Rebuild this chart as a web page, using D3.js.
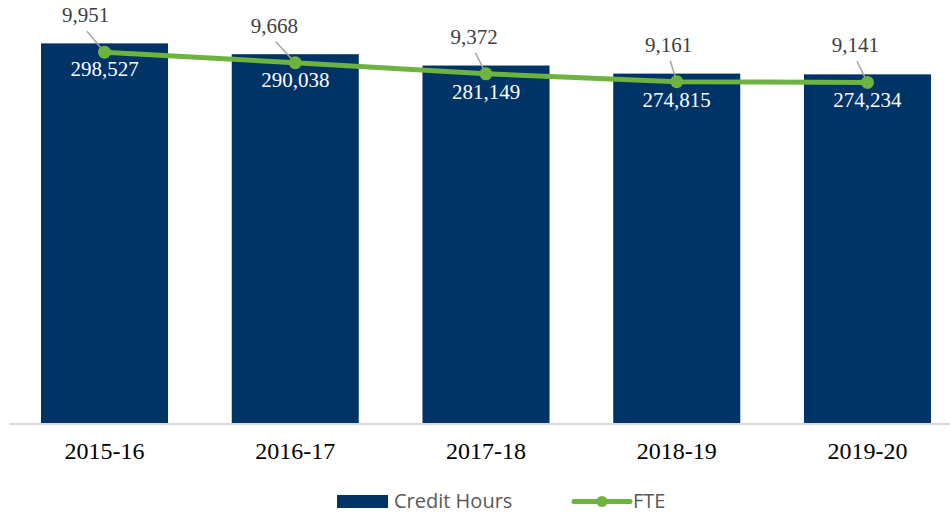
<!DOCTYPE html>
<html>
<head>
<meta charset="utf-8">
<script src="https://cdnjs.cloudflare.com/ajax/libs/d3/7.8.5/d3.min.js"></script>
<style>
  html, body { margin: 0; padding: 0; background: #fff; }
  svg { display: block; }
</style>
</head>
<body>
<div id="chart"></div>
<script>
// data
var years = ['2015-16', '2016-17', '2017-18', '2018-19', '2019-20'];
var creditHours = [298527, 290038, 281149, 274815, 274234];
var fte = [9951, 9668, 9372, 9161, 9141];

// hand-placed label nudges for the FTE labels (layout only)
var fteLabelDx = [-19, -21, -12, -8, -12];

var width = 951, height = 515;
var baseY = 424;

var svg = d3.select('#chart').append('svg')
    .attr('width', width)
    .attr('height', height);

var x = d3.scaleBand()
    .domain(years)
    .range([41, 931])
    .paddingInner(0.334)
    .paddingOuter(0);

var y = d3.scaleLinear().domain([0, 320000]).range([baseY, 16]);
var y2 = d3.scaleLinear().domain([0, 11000]).range([baseY, 13]);

var fmt = d3.format(',');

// bars
svg.append('g').selectAll('rect')
    .data(creditHours)
    .join('rect')
    .attr('x', function(d, i) { return x(years[i]); })
    .attr('y', function(d) { return y(d); })
    .attr('width', x.bandwidth())
    .attr('height', function(d) { return baseY - y(d); })
    .attr('fill', '#003366');

// x axis
var xAxis = svg.append('g')
    .attr('transform', 'translate(0,' + baseY + ')')
    .call(d3.axisBottom(x).tickSize(0).tickPadding(18));
xAxis.select('.domain').attr('stroke', '#d9d9d9').attr('stroke-width', 2)
    .attr('d', 'M9,0H950');
xAxis.selectAll('text')
    .attr('font-family', '"Liberation Serif", "Times New Roman", serif')
    .attr('font-size', 24)
    .attr('fill', '#000');

// bar labels
svg.append('g').selectAll('text')
    .data(creditHours)
    .join('text')
    .attr('x', function(d, i) { return x(years[i]) + x.bandwidth() / 2; })
    .attr('y', function(d) { return y(d) + 33; })
    .attr('text-anchor', 'middle')
    .attr('font-family', '"Liberation Serif", "Times New Roman", serif')
    .attr('font-size', 21)
    .attr('fill', '#fff')
    .text(function(d) { return fmt(d); });

// FTE line
var cx = function(d, i) { return x(years[i]) + x.bandwidth() / 2; };
var line = d3.line()
    .x(function(d, i) { return cx(d, i); })
    .y(function(d) { return y2(d); });

svg.append('path')
    .datum(fte)
    .attr('d', line)
    .attr('fill', 'none')
    .attr('stroke', '#6db33f')
    .attr('stroke-width', 5)
    .attr('stroke-linejoin', 'round');

// leader lines
svg.append('g').selectAll('line')
    .data(fte)
    .join('line')
    .attr('x1', function(d, i) { return cx(d, i) + fteLabelDx[i] + 1.5; })
    .attr('y1', function(d) { return y2(d) - 21; })
    .attr('x2', function(d, i) { return cx(d, i); })
    .attr('y2', function(d) { return y2(d); })
    .attr('stroke', '#a6a6a6')
    .attr('stroke-width', 1.5);

svg.append('g').selectAll('circle')
    .data(fte)
    .join('circle')
    .attr('cx', cx)
    .attr('cy', function(d) { return y2(d); })
    .attr('r', 6.5)
    .attr('fill', '#6db33f');

svg.append('g').selectAll('text')
    .data(fte)
    .join('text')
    .attr('x', function(d, i) { return cx(d, i) + fteLabelDx[i]; })
    .attr('y', function(d) { return y2(d) - 30; })
    .attr('text-anchor', 'middle')
    .attr('font-family', '"Liberation Serif", "Times New Roman", serif')
    .attr('font-size', 21)
    .attr('fill', '#404040')
    .text(function(d) { return fmt(d); });

// legend
var legend = svg.append('g').attr('font-family', '"Open Sans", "Liberation Sans", sans-serif')
    .attr('font-size', 20).attr('fill', '#595959');
legend.append('rect')
    .attr('x', 337).attr('y', 495).attr('width', 51).attr('height', 13)
    .attr('fill', '#003366');
legend.append('text').attr('x', 394).attr('y', 508).text('Credit Hours');
legend.append('line')
    .attr('x1', 574).attr('x2', 630).attr('y1', 501.5).attr('y2', 501.5)
    .attr('stroke', '#6db33f').attr('stroke-width', 5).attr('stroke-linecap', 'round');
legend.append('circle').attr('cx', 602).attr('cy', 501.5).attr('r', 5.5).attr('fill', '#6db33f');
legend.append('text').attr('x', 633).attr('y', 508).text('FTE');
</script>
</body>
</html>
